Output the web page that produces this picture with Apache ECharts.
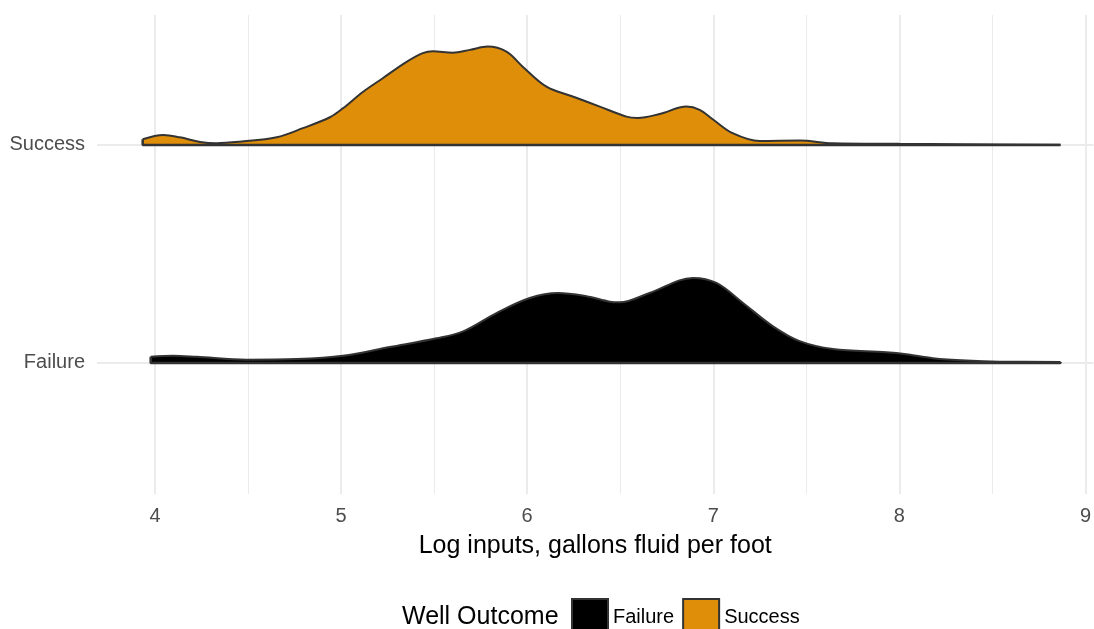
<!DOCTYPE html>
<html>
<head>
<meta charset="utf-8">
<script src="https://cdn.jsdelivr.net/npm/echarts@6/dist/echarts.min.js"></script>
<style>
  html, body { margin: 0; padding: 0; background: #fff; }
  #chart { width: 1094px; height: 629px; }
</style>
</head>
<body>
<div id="chart"></div>
<script>
// ridge categories, bottom to top
const categories = ['Failure', 'Success'];
const xTicks = [4, 5, 6, 7, 8, 9];
const xGridValues = [4, 4.5, 5, 5.5, 6, 6.5, 7, 7.5, 8, 8.5, 9];

// density estimates (height in ridge units)
const successX = [3.934, 4.045, 4.134, 4.242, 4.331, 4.456, 4.654, 4.795, 4.94, 5.01, 5.117, 5.224, 5.352, 5.439, 5.493, 5.6, 5.692, 5.788, 5.889, 5.976, 6.104, 6.245, 6.39, 6.533, 6.594, 6.712, 6.856, 6.927, 6.997, 7.104, 7.249, 7.464, 7.641, 8.001, 8.323, 8.866];
const successD = [0.026, 0.046, 0.035, 0.014, 0.008, 0.015, 0.035, 0.077, 0.127, 0.168, 0.243, 0.306, 0.381, 0.421, 0.43, 0.423, 0.436, 0.451, 0.428, 0.359, 0.267, 0.222, 0.176, 0.13, 0.124, 0.142, 0.176, 0.161, 0.118, 0.054, 0.018, 0.02, 0.008, 0.005, 0.003, 0.001];

const failureX = [3.977, 4.098, 4.224, 4.492, 4.761, 5.01, 5.262, 5.513, 5.656, 5.835, 6.014, 6.166, 6.318, 6.444, 6.497, 6.658, 6.891, 7.017, 7.16, 7.321, 7.464, 7.643, 7.93, 8.037, 8.18, 8.359, 8.538, 8.866];
const failureD = [0.028, 0.033, 0.028, 0.015, 0.018, 0.033, 0.073, 0.113, 0.145, 0.229, 0.298, 0.321, 0.306, 0.281, 0.278, 0.321, 0.39, 0.367, 0.275, 0.168, 0.1, 0.064, 0.049, 0.04, 0.022, 0.011, 0.006, 0.005];

const colors = { Failure: '#000000', Success: '#DF8E0A' };
const outline = '#333333';
const font = 'Liberation Sans, Arial, Helvetica, sans-serif';

function ridge(name, xs, ds, base) {
  const top = xs.map((x, i) => [x, base + ds[i]]);
  const n = xs.length - 1;
  return [
    {
      name: name,
      type: 'line',
      data: top,
      smooth: 0.35,
      symbol: 'none',
      z: 3,
      lineStyle: { color: outline, width: 2 },
      itemStyle: { color: colors[name] },
      areaStyle: { color: colors[name], opacity: 1, origin: base }
    },
    {
      name: name + '-edge',
      type: 'line',
      data: [top[0], [xs[0], base], [xs[n], base], top[n]],
      symbol: 'none',
      z: 4,
      silent: true,
      lineStyle: { color: outline, width: 2.5 }
    }
  ];
}

const chart = echarts.init(document.getElementById('chart'));

const gridLines = [];
xGridValues.forEach(v => {
  gridLines.push({
    xAxis: v,
    lineStyle: { color: '#EBEBEB', width: Number.isInteger(v) ? 2 : 1, type: 'solid' }
  });
});
categories.forEach((c, i) => {
  gridLines.push({ yAxis: i + 1, lineStyle: { color: '#EBEBEB', width: 2, type: 'solid' } });
});

chart.setOption({
  backgroundColor: '#fff',
  animation: false,
  textStyle: { fontFamily: font },
  grid: { left: 97, right: 0, top: 15, bottom: 135 },
  xAxis: {
    type: 'value',
    min: 3.6885,
    max: 9.043,
    name: 'Log inputs, gallons fluid per foot',
    nameLocation: 'middle',
    nameGap: 40,
    nameTextStyle: { fontSize: 25, color: '#000', fontFamily: font },
    axisLine: { show: false },
    axisTick: { show: false },
    splitLine: { show: false },
    axisLabel: {
      customValues: xTicks,
      fontSize: 20,
      color: '#4D4D4D',
      margin: 12,
      fontFamily: font
    }
  },
  yAxis: {
    type: 'value',
    min: 0.399,
    max: 2.596,
    axisLine: { show: false },
    axisTick: { show: false },
    splitLine: { show: false },
    axisLabel: {
      customValues: [1, 2],
      formatter: v => categories[Math.round(v) - 1] || '',
      fontSize: 20,
      color: '#4D4D4D',
      margin: 12,
      padding: [5, 0, 0, 0],
      fontFamily: font
    }
  },
  legend: {
    left: 571,
    top: 598,
    padding: 0,
    itemGap: 8,
    itemWidth: 36,
    itemHeight: 36,
    textStyle: { fontSize: 20, color: '#000', fontFamily: font },
    data: categories.map(c => ({
      name: c,
      icon: 'rect',
      itemStyle: { color: colors[c], borderColor: outline, borderWidth: 2 }
    }))
  },
  graphic: [{
    type: 'text',
    left: 402,
    top: 605,
    style: { text: 'Well Outcome', fontSize: 25, fill: '#000', fontFamily: font }
  }],
  series: [
    {
      name: 'grid',
      type: 'line',
      data: [],
      z: 1,
      silent: true,
      markLine: {
        z: 1,
        silent: true,
        symbol: 'none',
        label: { show: false },
        animation: false,
        data: gridLines
      }
    },
    ...ridge('Failure', failureX, failureD, 1),
    ...ridge('Success', successX, successD, 2)
  ]
});
</script>
</body>
</html>
